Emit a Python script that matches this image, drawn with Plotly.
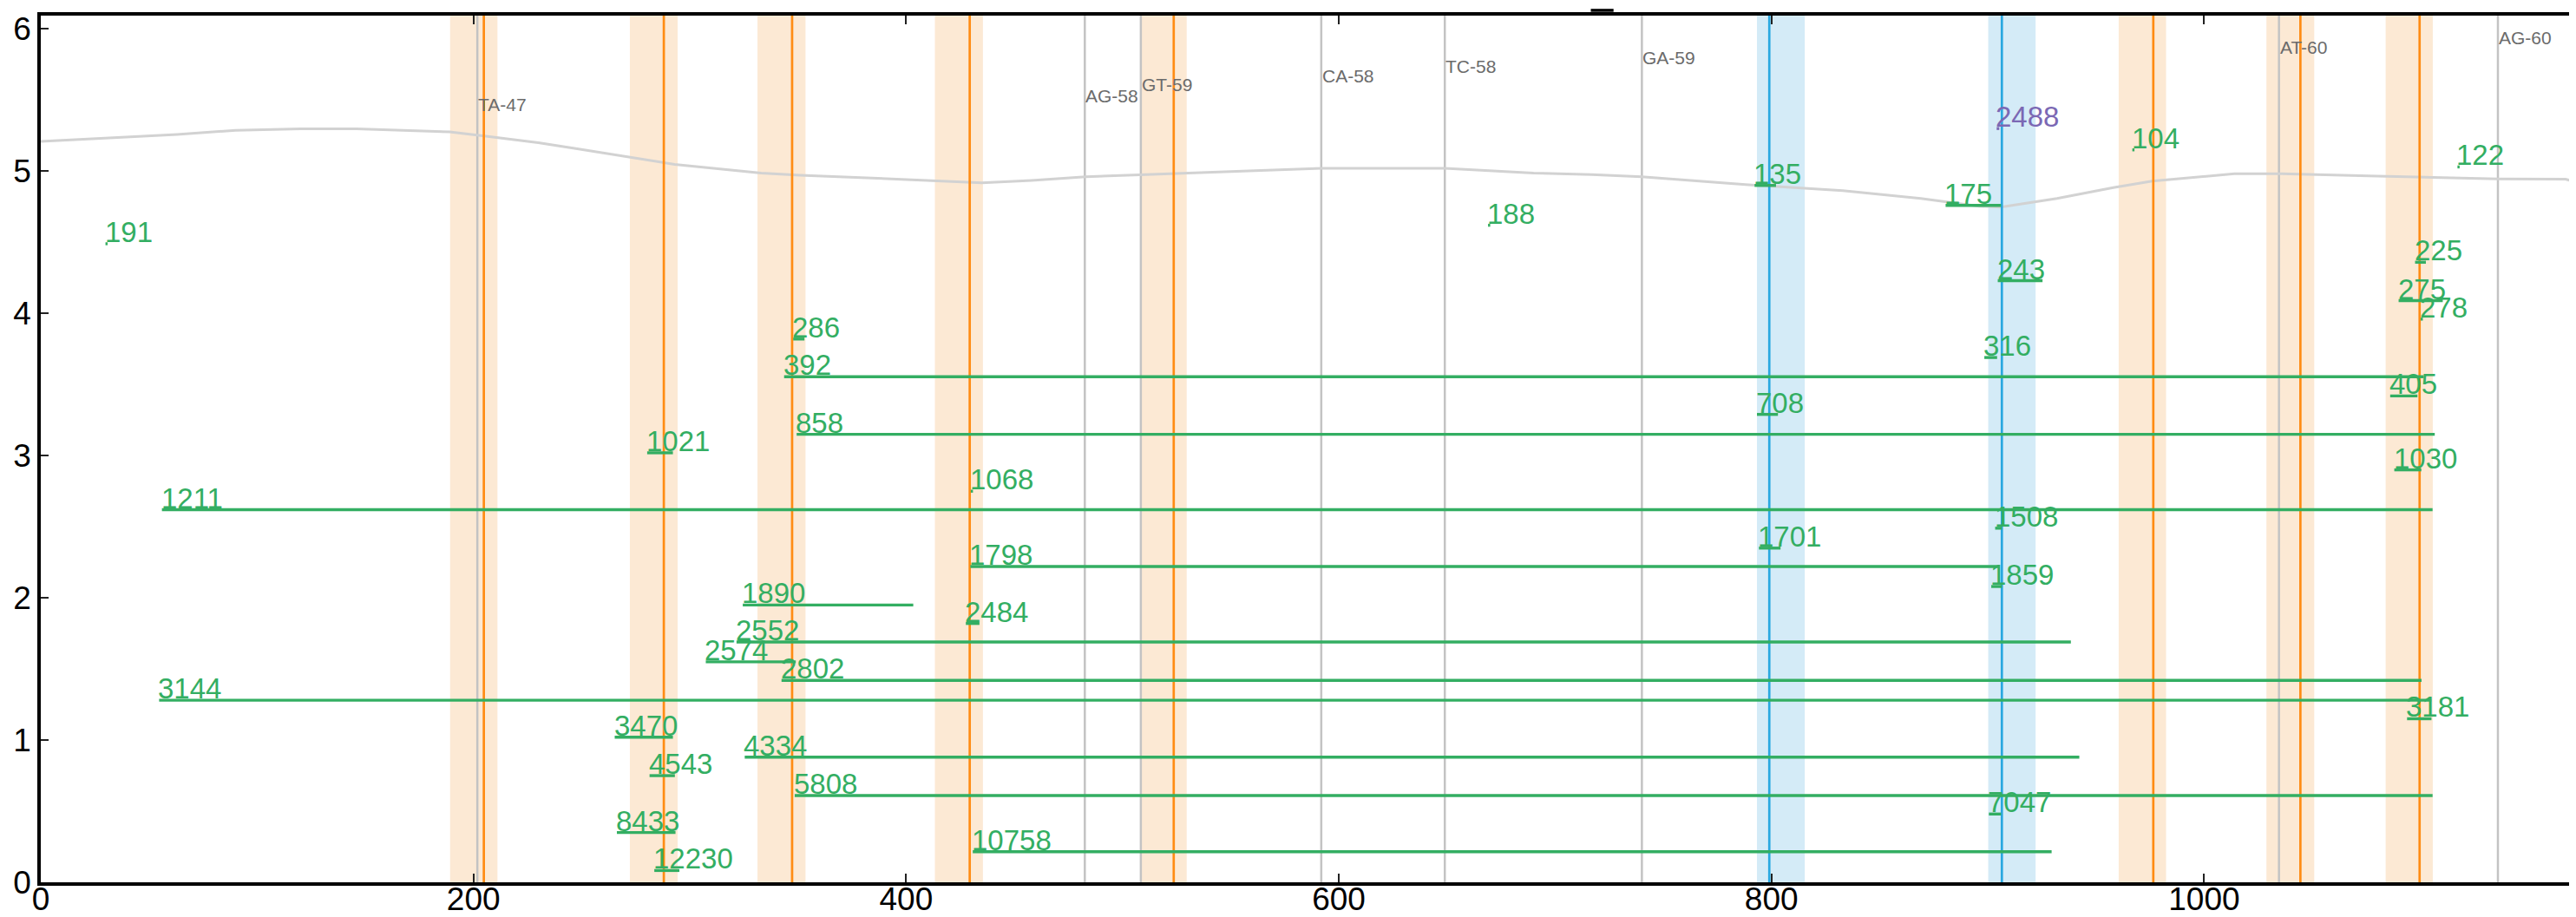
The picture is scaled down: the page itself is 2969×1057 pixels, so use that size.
import plotly.graph_objects as go

# ---------------- data ----------------
X_MAX = 1174.3
Y_MAX = 6.094

orange_sites = [204.8, 288.0, 347.3, 429.4, 523.7, 976.5, 1044.5, 1099.6]
orange_lo = [189.2, 272.3, 331.3, 413.3, 508.5, 960.5, 1028.8, 1083.9]
orange_hi = [211.1, 294.4, 353.5, 435.5, 529.7, 982.4, 1050.9, 1105.7]

blue_sites = [799.0, 906.5]
blue_lo = [793.3, 900.2]
blue_hi = [815.4, 922.1]

gray_sites = [201.8, 482.6, 508.5, 591.9, 649.0, 740.1, 1034.6, 1135.8]
gray_names = ["TA-47", "AG-58", "GT-59", "CA-58", "TC-58", "GA-59", "AT-60", "AG-60"]
gray_label_y = [5.47, 5.53, 5.61, 5.67, 5.74, 5.80, 5.87, 5.94]

orf_labels = ["191", "188", "104", "122", "135", "175", "243", "316", "708",
              "225", "275", "278", "405", "1030", "286", "392", "858", "1021",
              "1068", "1211", "1508", "1701", "1798", "1859", "1890", "2484",
              "2552", "2574", "2802", "3144", "3181", "3470", "4334", "4543",
              "5808", "7047", "8433", "10758", "12230"]
orf_y = [4.49, 4.62, 5.15, 5.03, 4.90, 4.76, 4.23, 3.69, 3.29,
         4.36, 4.09, 3.96, 3.42, 2.90, 3.82, 3.555, 3.15, 3.02,
         2.75, 2.62, 2.49, 2.35, 2.22, 2.08, 1.95, 1.82,
         1.69, 1.55, 1.42, 1.28, 1.15, 1.02, 0.88, 0.75,
         0.61, 0.48, 0.35, 0.215, 0.083]
orf_x0 = [29.9, 669.0, 966.8, 1117.1, 792.2, 880.5, 904.6, 898.4, 793.3,
          1097.5, 1089.9, 1100.1, 1086.0, 1087.9, 347.8, 343.6, 349.4, 280.3,
          429.9, 56.0, 903.4, 794.2, 429.7, 901.6, 324.5, 427.6,
          321.6, 307.4, 342.4, 54.7, 1093.8, 265.3, 325.4, 281.4,
          348.5, 900.5, 266.3, 430.8, 283.6]
orf_x1 = [30.9, 670.0, 967.8, 1118.1, 802.1, 906.1, 925.3, 904.3, 803.0,
          1102.5, 1110.3, 1101.1, 1098.6, 1100.4, 353.0, 1101.5, 1106.6, 292.2,
          430.9, 1105.6, 906.5, 804.2, 905.0, 906.5, 403.3, 433.9,
          938.4, 349.0, 1100.5, 1105.0, 1105.1, 292.2, 942.3, 293.1,
          1105.6, 906.1, 293.4, 929.5, 295.2]

highlight_labels = ["2488"]
highlight_y = [5.30]
highlight_x0 = [904.1]
highlight_x1 = [905.3]

curve_x = [0, 20, 63, 90, 120, 146, 164, 189, 205, 230, 248, 274, 293, 333, 351,
           398, 435, 458, 483, 508, 556, 592, 649, 690, 717, 740, 788, 833, 869,
           896, 906, 932, 958, 976, 1014, 1036, 1080, 1136, 1167, 1174]
curve_y = [5.210, 5.225, 5.259, 5.287, 5.298, 5.298, 5.287, 5.276, 5.248, 5.200,
           5.158, 5.096, 5.048, 4.987, 4.972, 4.943, 4.918, 4.935, 4.961, 4.974,
           4.998, 5.020, 5.020, 4.987, 4.976, 4.961, 4.906, 4.863, 4.809, 4.754,
           4.748, 4.809, 4.885, 4.930, 4.982, 4.982, 4.965, 4.946, 4.944, 4.917]

top_mark_x0 = [716.5]
top_mark_x1 = [727.0]
top_mark_y = [6.131]

# ---------------- styles ----------------
GREEN = "#33ae62"
ORANGE = "#ff8c14"
ORANGE_BAND = "#fce9d4"
BLUE = "#29a8e0"
BLUE_BAND = "#d4ebf7"
GRAY_LINE = "#c3c3c3"
GRAY_TEXT = "#6b6b6b"
CURVE = "#d2d2d2"
PURPLE = "#7b68b4"
FONT = "Liberation Sans, Arial, sans-serif"


def vlines(xs):
    xx, yy = [], []
    for v in xs:
        xx += [v, v, None]
        yy += [0, Y_MAX, None]
    return xx, yy


def hsegs(x0s, x1s, ys):
    xx, yy = [], []
    for a, b, y in zip(x0s, x1s, ys):
        xx += [a, b, None]
        yy += [y, y, None]
    return xx, yy


fig = go.Figure()

shapes = []
for lo, hi in zip(orange_lo, orange_hi):
    shapes.append(dict(type="rect", xref="x", yref="y", x0=lo, x1=hi, y0=0, y1=Y_MAX,
                       fillcolor=ORANGE_BAND, line_width=0, layer="below"))
for lo, hi in zip(blue_lo, blue_hi):
    shapes.append(dict(type="rect", xref="x", yref="y", x0=lo, x1=hi, y0=0, y1=Y_MAX,
                       fillcolor=BLUE_BAND, line_width=0, layer="below"))
for a, b, y in zip(top_mark_x0, top_mark_x1, top_mark_y):
    shapes.append(dict(type="line", xref="x", yref="paper", x0=a, x1=b,
                       y0=y / Y_MAX, y1=y / Y_MAX, line=dict(color="black", width=3.5)))

gx, gy = vlines(gray_sites)
fig.add_trace(go.Scatter(x=gx, y=gy, mode="lines", line=dict(color=GRAY_LINE, width=2.5),
                         hoverinfo="skip", showlegend=False))
fig.add_trace(go.Scatter(x=curve_x, y=curve_y, mode="lines", line=dict(color=CURVE, width=3),
                         hoverinfo="skip", showlegend=False))
ox, oy = vlines(orange_sites)
fig.add_trace(go.Scatter(x=ox, y=oy, mode="lines", line=dict(color=ORANGE, width=2.7),
                         hoverinfo="skip", showlegend=False))
bx, by = vlines(blue_sites)
fig.add_trace(go.Scatter(x=bx, y=by, mode="lines", line=dict(color=BLUE, width=2.7),
                         hoverinfo="skip", showlegend=False))

sx, sy = hsegs(orf_x0, orf_x1, orf_y)
fig.add_trace(go.Scatter(x=sx, y=sy, mode="lines", line=dict(color=GREEN, width=3.4),
                         hoverinfo="skip", showlegend=False))
hx, hy = hsegs(highlight_x0, highlight_x1, highlight_y)
fig.add_trace(go.Scatter(x=hx, y=hy, mode="lines", line=dict(color=PURPLE, width=3.4),
                         hoverinfo="skip", showlegend=False))

annotations = []
for name, x, y in zip(gray_names, gray_sites, gray_label_y):
    annotations.append(dict(x=x, y=y, xref="x", yref="y", text=name, showarrow=False,
                            xanchor="left", yanchor="middle", xshift=-1,
                            font=dict(family=FONT, size=21, color=GRAY_TEXT)))
for lab, x, y in zip(orf_labels, orf_x0, orf_y):
    annotations.append(dict(x=x, y=y, xref="x", yref="y", text=lab, showarrow=False,
                            xanchor="left", yanchor="bottom", xshift=-3, yshift=-7,
                            font=dict(family=FONT, size=33, color=GREEN)))
for lab, x, y in zip(highlight_labels, highlight_x0, highlight_y):
    annotations.append(dict(x=x, y=y, xref="x", yref="y", text=lab, showarrow=False,
                            xanchor="left", yanchor="bottom", xshift=-3, yshift=-7,
                            font=dict(family=FONT, size=33, color=PURPLE)))

fig.update_layout(
    width=2969, height=1057,
    margin=dict(l=39, r=2, t=10, b=48, pad=0),
    paper_bgcolor="white", plot_bgcolor="white",
    shapes=shapes, annotations=annotations,
    font=dict(family=FONT, color="black"),
    showlegend=False,
)
fig.update_xaxes(range=[0, X_MAX], tick0=0, dtick=200, showgrid=False, zeroline=False,
                 showline=True, linecolor="black", linewidth=3.5, mirror="ticks",
                 ticks="inside", ticklen=10, tickwidth=1.5, tickcolor="#222",
                 ticklabelstandoff=-16,
                 tickfont=dict(family=FONT, size=37, color="black"), automargin=False)
fig.update_yaxes(range=[0, Y_MAX], tick0=0, dtick=1, showgrid=False, zeroline=False,
                 showline=True, linecolor="black", linewidth=3.5, mirror=True,
                 ticks="inside", ticklen=9, tickwidth=1.5, tickcolor="#222",
                 tickfont=dict(family=FONT, size=37, color="black"), automargin=False)

fig.write_html("out.html")
